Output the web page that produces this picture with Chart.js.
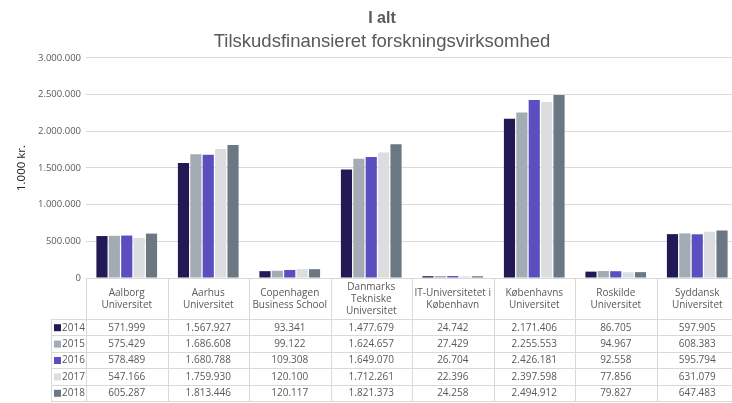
<!DOCTYPE html>
<html>
<head>
<meta charset="utf-8">
<script src="https://cdn.jsdelivr.net/npm/chart.js@4.4.1/dist/chart.umd.min.js"></script>
<style>
  html, body { margin: 0; padding: 0; background: #fff; overflow: hidden; }
  #wrap { position: relative; width: 764px; height: 403px; }
</style>
</head>
<body>
<div id="wrap"><canvas id="chart"></canvas></div>
<script>
// kategorier (linjeskift som i tabelhovedet)
const categories = [
  ['Aalborg', 'Universitet'],
  ['Aarhus', 'Universitet'],
  ['Copenhagen', 'Business School'],
  ['Danmarks', 'Tekniske', 'Universitet'],
  ['IT-Universitetet i', 'København'],
  ['Københavns', 'Universitet'],
  ['Roskilde', 'Universitet'],
  ['Syddansk', 'Universitet']
];

const years = ['2014', '2015', '2016', '2017', '2018'];

const v2014 = [571999, 1567927, 93341, 1477679, 24742, 2171406, 86705, 597905];
const v2015 = [575429, 1686608, 99122, 1624657, 27429, 2255553, 94967, 608383];
const v2016 = [578489, 1680788, 109308, 1649070, 26704, 2426181, 92558, 595794];
const v2017 = [547166, 1759930, 120100, 1712261, 22396, 2397598, 77856, 631079];
const v2018 = [605287, 1813446, 120117, 1821373, 24258, 2494912, 79827, 647483];

const yTicks = [0, 500000, 1000000, 1500000, 2000000, 2500000, 3000000];

const COLORS = ['#231a55', '#a3abb5', '#5b4fbf', '#dcdde1', '#6b7783'];
const TEXT = '#595959';
const GRID = '#d9d9d9';

// dansk tusindtalsseparator
const fmt = v => String(v).replace(/\B(?=(\d{3})+(?!\d))/g, '.');

Chart.defaults.font.family = "'Open Sans', sans-serif";
Chart.defaults.color = TEXT;

/* ── datatabel under grafen ── */
const dataTable = {
  id: 'dataTable',
  afterDraw(chart) {
    const { ctx, chartArea } = chart;
    const xs = chart.scales.x;
    const n = categories.length;
    const colW = (chartArea.right - chartArea.left) / n;
    const top = chartArea.bottom;
    const headBottom = top + 41;
    const rowH = 16.4;
    const tableBottom = headBottom + rowH * years.length;
    const legendLeft = 51;

    ctx.save();
    ctx.strokeStyle = GRID;
    ctx.lineWidth = 1;

    // lodrette linjer
    for (let i = 0; i <= n; i++) {
      const x = Math.round(chartArea.left + i * colW) + 0.5;
      ctx.beginPath();
      ctx.moveTo(x, top);
      ctx.lineTo(x, tableBottom);
      ctx.stroke();
    }
    ctx.beginPath();
    ctx.moveTo(legendLeft + 0.5, headBottom);
    ctx.lineTo(legendLeft + 0.5, tableBottom);
    ctx.stroke();

    // vandrette linjer
    for (let r = 0; r <= years.length; r++) {
      const y = Math.round(headBottom + r * rowH) + 0.5;
      ctx.beginPath();
      ctx.moveTo(legendLeft, y);
      ctx.lineTo(chartArea.right, y);
      ctx.stroke();
    }

    // tabelhoved
    ctx.fillStyle = TEXT;
    ctx.font = "10px 'Open Sans', sans-serif";
    ctx.textAlign = 'center';
    ctx.textBaseline = 'middle';
    const lh = 12;
    categories.forEach((lines, i) => {
      const cx = xs.getPixelForValue(i);
      const cy = (top + headBottom) / 2 + 1;
      const y0 = cy - (lines.length - 1) * lh / 2;
      lines.forEach((t, k) => ctx.fillText(t, cx, y0 + k * lh));
    });

    // rækker
    const series = chart.data.datasets;
    series.forEach((ds, r) => {
      const cy = headBottom + r * rowH + rowH / 2 + 0.5;
      ctx.fillStyle = ds.backgroundColor;
      ctx.fillRect(legendLeft + 3, cy - 3.5, 7, 7);
      ctx.fillStyle = TEXT;
      ctx.textAlign = 'left';
      ctx.font = "10px 'Open Sans', sans-serif";
      ctx.fillText(ds.label, legendLeft + 11, cy);
      ctx.textAlign = 'center';
      ds.data.forEach((v, i) => ctx.fillText(fmt(v), xs.getPixelForValue(i), cy));
    });
    ctx.restore();
  }
};

const allSeries = [v2014, v2015, v2016, v2017, v2018];

new Chart(document.getElementById('chart'), {
  type: 'bar',
  data: {
    labels: categories,
    datasets: years.map((y, i) => ({
      label: y,
      data: allSeries[i],
      backgroundColor: COLORS[i],
      categoryPercentage: 0.76,
      barPercentage: 0.9
    }))
  },
  options: {
    responsive: true,
    maintainAspectRatio: false,
    animation: false,
    layout: { padding: { left: 26, right: 26, top: 0, bottom: 125 } },
    plugins: {
      legend: { display: false },
      tooltip: { enabled: false },
      title: {
        display: true,
        text: 'I alt',
        color: TEXT,
        font: { family: "'Liberation Sans', Arial, sans-serif", size: 16, weight: 'bold' },
        padding: { top: 9, bottom: 0 }
      },
      subtitle: {
        display: true,
        text: 'Tilskudsfinansieret forskningsvirksomhed',
        color: TEXT,
        font: { family: "'Liberation Sans', Arial, sans-serif", size: 18.5 },
        padding: { top: 3, bottom: 4.5 }
      }
    },
    scales: {
      x: { display: false },
      y: {
        min: 0,
        max: 3000000,
        afterBuildTicks: axis => { axis.ticks = yTicks.map(v => ({ value: v })); },
        afterFit: axis => { axis.width = 60; },
        grid: { color: GRID, drawTicks: false },
        border: { display: false },
        ticks: { padding: 5, color: TEXT, font: { size: 9.5 }, callback: v => fmt(v) },
        title: { display: true, text: '1.000 kr.', color: '#222', font: { size: 11.5 }, padding: { top: -11, bottom: 4 } }
      }
    }
  },
  plugins: [dataTable]
});
</script>
</body>
</html>
